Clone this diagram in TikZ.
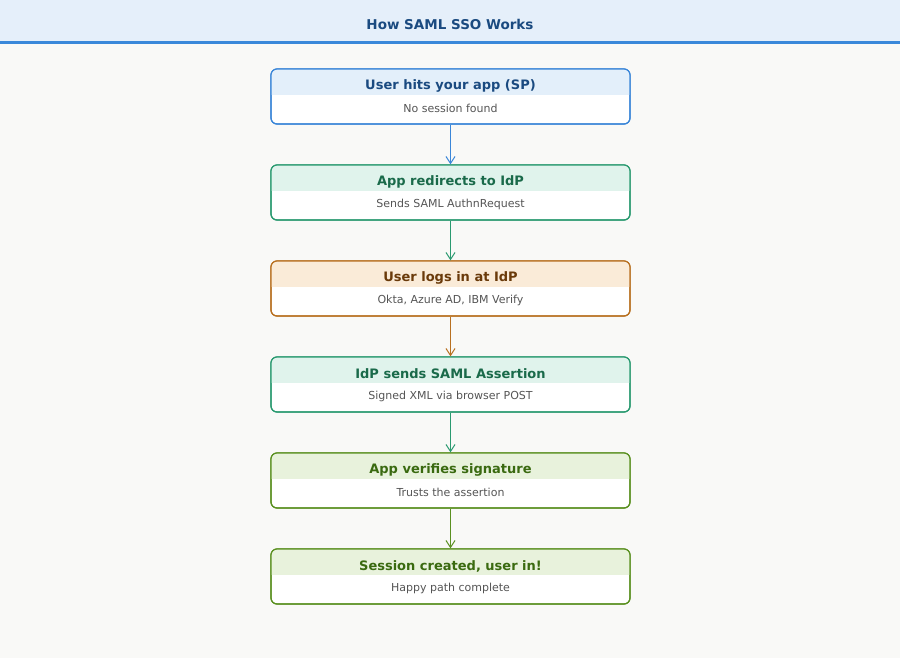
\documentclass[tikz,border=0pt]{standalone}
\usepackage{fontspec}
\setmainfont{DejaVu Sans}
\usetikzlibrary{arrows.meta}
\definecolor{bg}{HTML}{F9F9F7}
\definecolor{tband}{HTML}{E5EFFA}
\definecolor{tline}{HTML}{3A88DA}
\definecolor{ttext}{HTML}{1A4A80}
\definecolor{sub}{HTML}{555555}
\definecolor{cB}{HTML}{3A86D8}\definecolor{fB}{HTML}{E3EFFA}\definecolor{tB}{HTML}{1A4A80}
\definecolor{cG}{HTML}{2A9A70}\definecolor{fG}{HTML}{E0F3EC}\definecolor{tG}{HTML}{1A6A4A}
\definecolor{cO}{HTML}{B87020}\definecolor{fO}{HTML}{FAEBD8}\definecolor{tO}{HTML}{6A3A0A}
\definecolor{cL}{HTML}{5A9020}\definecolor{fL}{HTML}{E8F2DC}\definecolor{tL}{HTML}{3A6A10}
\tikzset{
 stepbox/.style={draw=#1, line width=1.2pt, rounded corners=6pt, fill=white, minimum width=359pt, minimum height=55pt, inner sep=0pt},
 headtext/.style={font=\bfseries\fontsize{13}{15}\selectfont, text=#1},
 subtext/.style={font=\fontsize{11}{13}\selectfont, text=sub},
 conn/.style={draw=#1, line width=1.1pt, -{Straight Barb[length=7pt,width=9pt,line width=1pt]}}
}
\newcommand{\samlbox}[5]{%
  \node[stepbox=#3] (#1) at (450.5,-#2-27.5) {};
  \begin{scope}
   \clip[rounded corners=6pt] (271,-#2) rectangle (630,-#2-55);
   \fill[#4] (271,-#2) rectangle (630,-#2-26);
  \end{scope}
  \draw[#3, line width=1.2pt, rounded corners=6pt] (271,-#2) rectangle (630,-#2-55);
}
\begin{document}
\begin{tikzpicture}[x=1pt,y=1pt]
\useasboundingbox (0,0) rectangle (900,-658);
\fill[bg] (0,0) rectangle (900,-658);
\fill[tband] (0,0) rectangle (900,-43);
\draw[tline, line width=3pt] (0,-43) -- (900,-43);
\node[font=\bfseries\fontsize{13.5}{15}\selectfont, text=ttext] (title) at (450,-24) {How SAML SSO Works};
\foreach \n/\y/\c/\f/\t/\h/\s in {
 b1/69/cB/fB/tB/{User hits your app (SP)}/{No session found},
 b2/165/cG/fG/tG/{App redirects to IdP}/{Sends SAML AuthnRequest},
 b3/261/cO/fO/tO/{User logs in at IdP}/{Okta, Azure AD, IBM Verify},
 b4/357/cG/fG/tG/{IdP sends SAML Assertion}/{Signed XML via browser POST},
 b5/453/cL/fL/tL/{App verifies signature}/{Trusts the assertion},
 b6/549/cL/fL/tL/{Session created, user in!}/{Happy path complete}}{
  \samlbox{\n}{\y}{\c}{\f}{\t}
  \node[headtext=\t] (\n h) at (450.5,-\y-17) {\h};
  \node[subtext] (\n s) at (450.5,-\y-39) {\s};
}
\draw[conn=cB] (b1.south) -- (b2.north);
\draw[conn=cG] (b2.south) -- (b3.north);
\draw[conn=cO] (b3.south) -- (b4.north);
\draw[conn=cG] (b4.south) -- (b5.north);
\draw[conn=cL] (b5.south) -- (b6.north);
\end{tikzpicture}
\end{document}
